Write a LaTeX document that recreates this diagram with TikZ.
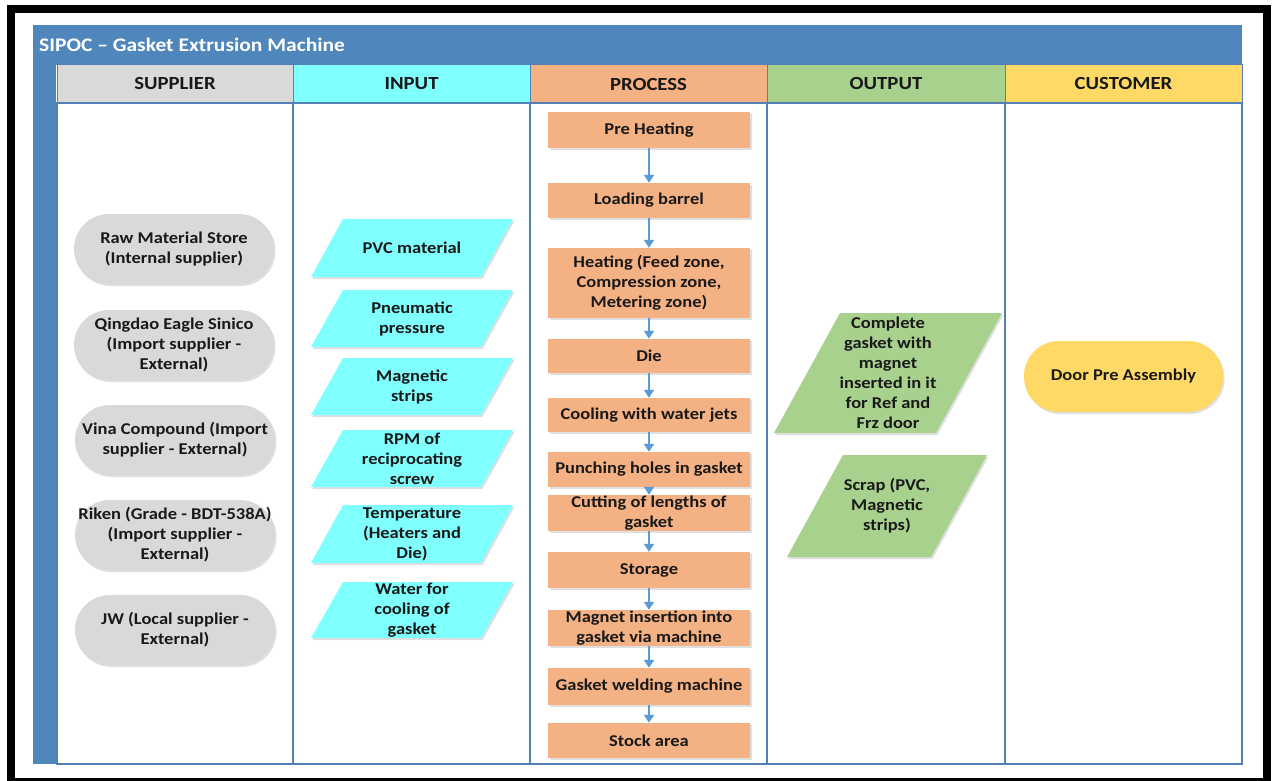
\documentclass[tikz,border=0pt]{standalone}
\usepackage{fontspec}
\setmainfont{Carlito}[FakeStretch=1.12]
\usetikzlibrary{arrows.meta,shadows}
\definecolor{titleblue}{RGB}{79,134,188}
\definecolor{lineblue}{RGB}{84,128,182}
\definecolor{supgray}{RGB}{217,217,217}
\definecolor{incyan}{RGB}{128,255,255}
\definecolor{procor}{RGB}{244,177,131}
\definecolor{outgreen}{RGB}{169,209,142}
\definecolor{custyel}{RGB}{255,217,102}
\definecolor{arrblue}{RGB}{91,155,213}
\definecolor{txt}{RGB}{25,25,25}
\newcommand{\mypara}[8]{%
  \fill[#7, shad] (#2-#4+#6, #3-#5) -- (#2+#4+#6, #3-#5) -- (#2+#4-#6, #3+#5) -- (#2-#4-#6, #3+#5) -- cycle;
  \node[bodytxt] (#1) at (#2,#3) {#8};}
\begin{document}
\begin{tikzpicture}[x=1pt,y=-1pt,
  bodytxt/.style={font=\bfseries\fontsize{16.5}{20}\selectfont, text=txt, align=center, inner sep=0pt},
  hdr/.style={font=\bfseries\fontsize{18.5}{22}\selectfont, text=txt, draw=lineblue, line width=1pt, minimum height=38pt, inner sep=0pt},
  shad/.style={drop shadow={shadow xshift=1.5pt,shadow yshift=-2pt,fill=black!35,opacity=0.35}},
  supbox/.style={bodytxt, rectangle, rounded corners=35pt, fill=supgray, minimum width=200pt, minimum height=70pt, shad},
  procbox/.style={bodytxt, rectangle, fill=procor, minimum width=202pt, shad},
  arr/.style={arrblue, line width=2pt, -{Triangle[width=10pt,length=8pt]}}
]
\useasboundingbox (0,0) rectangle (1274,781);
\fill[white] (0,0) rectangle (1274,781);
% black frame
\draw[black, line width=8pt] (11,9) rectangle (1267,782);
% title bar and left strip
\fill[titleblue] (33,25) rectangle (1242,65);
\fill[titleblue] (33,65) rectangle (56,764);
\node[anchor=west, font=\bfseries\fontsize{19.2}{22}\selectfont, text=white, inner sep=0pt] (title) at (39,45) {SIPOC -- Gasket Extrusion Machine};
% header cells
\node[hdr, fill=supgray,  minimum width=236pt] (hS) at (175,84) {SUPPLIER};
\node[hdr, fill=incyan,   minimum width=237pt] (hI) at (411.5,84) {INPUT};
\node[hdr, fill=procor,   minimum width=237pt] (hP) at (648.5,84) {PROCESS};
\node[hdr, fill=outgreen, minimum width=238pt] (hO) at (886,84) {OUTPUT};
\node[hdr, fill=custyel,  minimum width=237pt] (hC) at (1123.5,84) {CUSTOMER};
% body columns
\draw[lineblue, line width=1.3pt] (57,103) rectangle (1242,764);
\foreach \xx in {293,530,767,1005} \draw[lineblue, line width=1.3pt] (\xx,103) -- (\xx,764);
% suppliers
\node[supbox] (s1) at (174,249) {Raw Material Store\\(Internal supplier)};
\node[supbox] (s2) at (174,345) {Qingdao Eagle Sinico\\(Import supplier -\\External)};
\node[supbox] (s3) at (175,440) {Vina Compound (Import\\supplier - External)};
\node[supbox] (s4) at (175,535) {Riken (Grade - BDT-538A)\\(Import supplier -\\External)};
\node[supbox] (s5) at (175,630) {JW (Local supplier -\\External)};
% inputs
\mypara{i1}{412}{248}{85}{29}{16}{incyan}{PVC material}
\mypara{i2}{412}{318.5}{85}{28.5}{16}{incyan}{Pneumatic\\pressure}
\mypara{i3}{412}{386.5}{85}{28.5}{16}{incyan}{Magnetic\\strips}
\mypara{i4}{412}{458.5}{85}{28.5}{16}{incyan}{RPM of\\reciprocating\\screw}
\mypara{i5}{412}{534}{85}{29}{16}{incyan}{Temperature\\(Heaters and\\Die)}
\mypara{i6}{412}{610}{85}{28}{16}{incyan}{Water for\\cooling of\\gasket}
% process
\node[procbox, minimum height=36pt] (p1) at (649,130) {Pre Heating};
\node[procbox, minimum height=35pt] (p2) at (649,200.5) {Loading barrel};
\node[procbox, minimum height=70pt] (p3) at (649,283) {Heating (Feed zone,\\Compression zone,\\Metering zone)};
\node[procbox, minimum height=34pt] (p4) at (649,356) {Die};
\node[procbox, minimum height=34pt] (p5) at (649,415) {Cooling with water jets};
\node[procbox, minimum height=35pt] (p6) at (649,469.5) {Punching holes in gasket};
\node[procbox, minimum height=36pt] (p7) at (649,513) {Cutting of lengths of\\gasket};
\node[procbox, minimum height=36pt] (p8) at (649,570) {Storage};
\node[procbox, minimum height=36pt] (p9) at (649,628) {Magnet insertion into\\gasket via machine};
\node[procbox, minimum height=37pt] (p10) at (649,686.5) {Gasket welding machine};
\node[procbox, minimum height=35pt] (p11) at (649,740.5) {Stock area};
\foreach \a/\b in {p1/p2,p2/p3,p3/p4,p4/p5,p5/p6,p6/p7,p7/p8,p8/p9,p9/p10,p10/p11}
  \draw[arr] (\a.south) -- (\b.north);
% outputs
\mypara{o1}{888}{373}{81}{60}{33}{outgreen}{Complete\\gasket with\\magnet\\inserted in it\\for Ref and\\Frz door}
\mypara{o2}{887}{506}{72}{51}{28}{outgreen}{Scrap (PVC,\\Magnetic\\strips)}
% customer
\node[supbox, fill=custyel, minimum width=199pt, minimum height=71pt] (c1) at (1123.5,376.5) {Door Pre Assembly};
\end{tikzpicture}
\end{document}
